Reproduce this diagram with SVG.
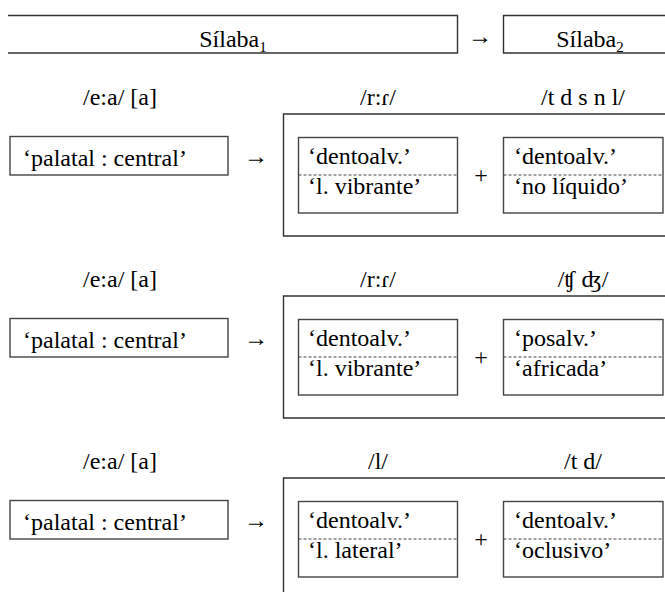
<svg xmlns="http://www.w3.org/2000/svg" width="665" height="592" viewBox="0 0 665 592">
<style>
text{font-family:"Liberation Serif","Times New Roman",serif;font-size:24px;fill:#000}
.m{text-anchor:middle}
.ln{fill:none;stroke:#333;stroke-width:1.4}
.bx{fill:#fff;stroke:#444;stroke-width:1.4}
.dash{stroke:#444;stroke-width:1.2;stroke-dasharray:3 2}
.sub{font-size:15px}
</style>
<rect width="665" height="592" fill="#fff"/>

<g id="silaba1">
<path class="ln" d="M8 15.5H457.5V53H8"/>
<text class="m" x="233" y="47">Sílaba<tspan class="sub" dy="5">1</tspan></text>
</g>
<g id="silaba2">
<path class="ln" d="M665 15.5H503.5V53H665"/>
<text class="m" x="590" y="47">Sílaba<tspan class="sub" dy="5">2</tspan></text>
</g>

<g id="row1">
<g id="r1-left">
<text class="m" x="120" y="105">/e:a/ [a]</text>
<rect class="bx" x="10" y="136.5" width="218" height="38.5"/>
<text x="23" y="166">‘palatal : central’</text>
</g>
<g id="r1-group">
<path class="ln" d="M665 114H283.5V236H665"/>
<text class="m" x="378" y="105">/r:ɾ/</text>
<text class="m" x="583" y="105">/t d s n l/</text>
<g id="r1-a">
<rect class="bx" x="298.5" y="137.5" width="159" height="75.5"/>
<line class="dash" x1="298.5" y1="175" x2="457.5" y2="175"/>
<text x="308" y="164">‘dentoalv.’</text>
<text x="308" y="194">‘l. vibrante’</text>
</g>
<g id="r1-b">
<rect class="bx" x="503.5" y="137.5" width="159.5" height="75.5"/>
<line class="dash" x1="503.5" y1="175" x2="663" y2="175"/>
<text x="514" y="164">‘dentoalv.’</text>
<text x="514" y="194">‘no líquido’</text>
</g>
</g>
</g>

<g id="row2" transform="translate(0,182)">
<g id="r2-left">
<text class="m" x="120" y="105">/e:a/ [a]</text>
<rect class="bx" x="10" y="136.5" width="218" height="38.5"/>
<text x="23" y="166">‘palatal : central’</text>
</g>
<g id="r2-group">
<path class="ln" d="M665 114H283.5V236H665"/>
<text class="m" x="378" y="105">/r:ɾ/</text>
<text class="m" x="583" y="105">/ʧ ʤ/</text>
<g id="r2-a">
<rect class="bx" x="298.5" y="137.5" width="159" height="75.5"/>
<line class="dash" x1="298.5" y1="175" x2="457.5" y2="175"/>
<text x="308" y="164">‘dentoalv.’</text>
<text x="308" y="194">‘l. vibrante’</text>
</g>
<g id="r2-b">
<rect class="bx" x="503.5" y="137.5" width="159.5" height="75.5"/>
<line class="dash" x1="503.5" y1="175" x2="663" y2="175"/>
<text x="514" y="164">‘posalv.’</text>
<text x="514" y="194">‘africada’</text>
</g>
</g>
</g>

<g id="row3" transform="translate(0,364)">
<g id="r3-left">
<text class="m" x="120" y="105">/e:a/ [a]</text>
<rect class="bx" x="10" y="136.5" width="218" height="38.5"/>
<text x="23" y="166">‘palatal : central’</text>
</g>
<g id="r3-group">
<path class="ln" d="M665 114H283.5V236H665"/>
<text class="m" x="378" y="105">/l/</text>
<text class="m" x="583" y="105">/t d/</text>
<g id="r3-a">
<rect class="bx" x="298.5" y="137.5" width="159" height="75.5"/>
<line class="dash" x1="298.5" y1="175" x2="457.5" y2="175"/>
<text x="308" y="164">‘dentoalv.’</text>
<text x="308" y="194">‘l. lateral’</text>
</g>
<g id="r3-b">
<rect class="bx" x="503.5" y="137.5" width="159.5" height="75.5"/>
<line class="dash" x1="503.5" y1="175" x2="663" y2="175"/>
<text x="514" y="164">‘dentoalv.’</text>
<text x="514" y="194">‘oclusivo’</text>
</g>
</g>
</g>

<g id="connectors">
<text class="m" x="480" y="44">→</text>
<text class="m" x="256" y="164">→</text>
<text class="m" x="481" y="183">+</text>
<text class="m" x="256" y="346">→</text>
<text class="m" x="481" y="365">+</text>
<text class="m" x="256" y="528">→</text>
<text class="m" x="481" y="547">+</text>
</g>
</svg>
